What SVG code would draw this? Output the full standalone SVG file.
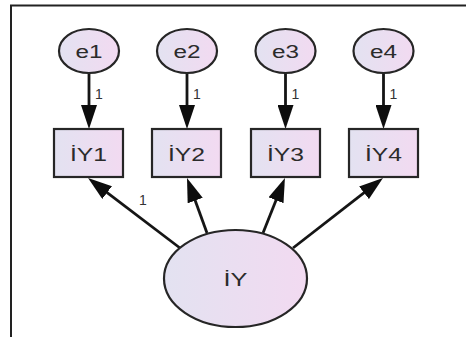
<svg xmlns="http://www.w3.org/2000/svg" width="466" height="337" viewBox="0 0 466 337">
  <style>
    .node { stroke: #262626; stroke-width: 2.2; fill: url(#lav); }
    .lbl { font-family: "Liberation Sans", Arial, sans-serif; fill: #2b2b2b; text-anchor: middle; }
    .big { font-size: 18px; }
    .small { font-size: 14px; text-anchor: start; fill: #333; }
    .edge { stroke: #151515; stroke-width: 2.8; fill: none; marker-end: url(#head); }
  </style>
  <defs>
    <linearGradient id="lav" x1="0" y1="0" x2="1" y2="0">
      <stop offset="0" stop-color="#e3e2f1"/>
      <stop offset="1" stop-color="#f2daf1"/>
    </linearGradient>
    <marker id="head" viewBox="0 0 24 16" refX="12" refY="8" markerWidth="24" markerHeight="16" markerUnits="userSpaceOnUse" orient="auto">
      <path d="M0,0 L24,8 L0,16 z" fill="#0d0d0d"/>
    </marker>
  </defs>

  <rect width="466" height="337" fill="#fff"/>
  <!-- frame -->
  <path d="M11,337 V5.5 H466" fill="none" stroke="#222" stroke-width="2"/>

  <!-- connectors -->
  <g id="connectors">
    <line class="edge" x1="89" y1="73" x2="89" y2="117"/>
    <line class="edge" x1="187" y1="73" x2="187" y2="117"/>
    <line class="edge" x1="285.5" y1="73" x2="285.5" y2="117"/>
    <line class="edge" x1="383.5" y1="73" x2="383.5" y2="117"/>
    <line class="edge" x1="180" y1="248" x2="97.6" y2="185.3"/>
    <line class="edge" x1="207" y1="233" x2="191.1" y2="189.3"/>
    <line class="edge" x1="263" y1="233" x2="280.5" y2="189.1"/>
    <line class="edge" x1="293" y1="248" x2="373.5" y2="185.4"/>
    <text class="lbl small" x="95" y="99">1</text>
    <text class="lbl small" x="193" y="99">1</text>
    <text class="lbl small" x="291.5" y="99">1</text>
    <text class="lbl small" x="389.5" y="99">1</text>
    <text class="lbl small" x="139" y="205">1</text>
  </g>

  <g id="e1">
    <ellipse class="node" cx="89" cy="51" rx="30" ry="22"/>
    <text class="lbl big" x="89" y="58" textLength="27" lengthAdjust="spacingAndGlyphs">e1</text>
  </g>
  <g id="e2">
    <ellipse class="node" cx="187" cy="51" rx="30" ry="22"/>
    <text class="lbl big" x="187" y="58" textLength="27" lengthAdjust="spacingAndGlyphs">e2</text>
  </g>
  <g id="e3">
    <ellipse class="node" cx="285.5" cy="51" rx="30" ry="22"/>
    <text class="lbl big" x="285.5" y="58" textLength="27" lengthAdjust="spacingAndGlyphs">e3</text>
  </g>
  <g id="e4">
    <ellipse class="node" cx="383.5" cy="51" rx="30" ry="22"/>
    <text class="lbl big" x="383.5" y="58" textLength="27" lengthAdjust="spacingAndGlyphs">e4</text>
  </g>

  <g id="IY1">
    <rect class="node" x="54" y="129" width="69" height="48"/>
    <text class="lbl big" x="88.5" y="161" textLength="37" lengthAdjust="spacingAndGlyphs">İY1</text>
  </g>
  <g id="IY2">
    <rect class="node" x="152" y="129" width="69" height="48"/>
    <text class="lbl big" x="186.5" y="161" textLength="37" lengthAdjust="spacingAndGlyphs">İY2</text>
  </g>
  <g id="IY3">
    <rect class="node" x="251" y="129" width="69" height="48"/>
    <text class="lbl big" x="285.5" y="161" textLength="37" lengthAdjust="spacingAndGlyphs">İY3</text>
  </g>
  <g id="IY4">
    <rect class="node" x="349" y="129" width="69" height="48"/>
    <text class="lbl big" x="383.5" y="161" textLength="37" lengthAdjust="spacingAndGlyphs">İY4</text>
  </g>

  <g id="IY">
    <ellipse class="node" cx="235.5" cy="278.5" rx="71.5" ry="48.5"/>
    <text class="lbl big" x="235.5" y="286" textLength="24" lengthAdjust="spacingAndGlyphs">İY</text>
  </g>
</svg>
